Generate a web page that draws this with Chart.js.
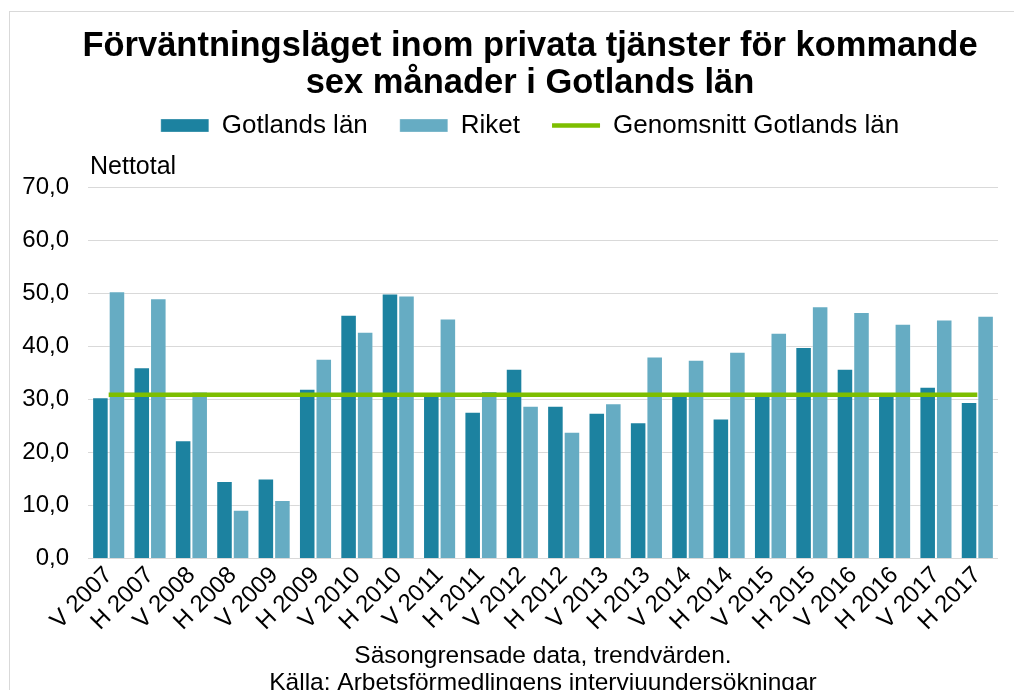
<!DOCTYPE html>
<html lang="sv">
<head>
<meta charset="utf-8">
<title>Förväntningsläget inom privata tjänster</title>
<script src="https://cdn.jsdelivr.net/npm/chart.js@4.4.1/dist/chart.umd.min.js"></script>
<style>
  html, body { margin: 0; padding: 0; background: #fff; overflow: hidden; }
  #wrap { position: relative; width: 1014px; height: 690px; overflow: hidden; }
  #ram { position: absolute; left: 9px; top: 11px; width: 1100px; height: 800px;
         border-left: 1px solid #d9d9d9; border-top: 1px solid #d9d9d9; }
  #diagram { position: absolute; left: 0; top: 0; }
</style>
</head>
<body>
<div id="wrap">
  <div id="ram"></div>
  <canvas id="diagram" width="1038" height="702"></canvas>
</div>
<script>
// halvår (V = vår, H = höst)
var perioder = ["V 2007", "H 2007", "V 2008", "H 2008", "V 2009", "H 2009", "V 2010", "H 2010",
    "V 2011", "H 2011", "V 2012", "H 2012", "V 2013", "H 2013", "V 2014", "H 2014",
    "V 2015", "H 2015", "V 2016", "H 2016", "V 2017", "H 2017"];

var gotlandsLan = [30.4, 36.1, 22.3, 14.6, 15.1, 32.0, 46.0, 50.0, 31.0, 27.7, 35.8,
    28.8, 27.5, 25.7, 31.0, 26.4, 31.0, 39.9, 35.8, 31.0, 32.4, 29.5];

var riket = [50.4, 49.1, 31.5, 9.2, 11.0, 37.7, 42.8, 49.6, 45.3, 31.6, 28.8,
    23.9, 29.3, 38.1, 37.5, 39.0, 42.6, 47.6, 46.5, 44.3, 45.1, 45.8];

var snittGotland = [30.9, 30.9, 30.9, 30.9, 30.9, 30.9, 30.9, 30.9, 30.9, 30.9, 30.9,
    30.9, 30.9, 30.9, 30.9, 30.9, 30.9, 30.9, 30.9, 30.9, 30.9, 30.9];

var yTicks = [0, 10, 20, 30, 40, 50, 60, 70];

Chart.defaults.font.family = "'Liberation Sans', Arial, sans-serif";
Chart.defaults.color = "#000";

// plats under legenden for "Nettotal"
var nettotalPlugin = {
    id: "nettotal",
    afterInit: function (chart) {
        var origFit = chart.legend.fit;
        chart.legend.fit = function () {
            origFit.call(this);
            this.height += 39;
        };
    },
    afterDraw: function (chart) {
        var ctx = chart.ctx;
        ctx.save();
        ctx.font = "25px 'Liberation Sans', Arial, sans-serif";
        ctx.fillStyle = "#000";
        ctx.textAlign = "left";
        ctx.textBaseline = "middle";
        ctx.fillText("Nettotal", chart.chartArea.left + 2, chart.chartArea.top - 20);
        ctx.restore();
    }
};

var ctx = document.getElementById("diagram");
var chart = new Chart(ctx, {
    type: "bar",
    data: {
        labels: perioder,
        datasets: [{
            label: "Gotlands län",
            data: gotlandsLan,
            backgroundColor: "#1c82a0",
            borderColor: "rgba(255,255,255,0.3)",
            borderWidth: 1,
            pointStyle: "rect",
            order: 1
        }, {
            label: "Riket",
            data: riket,
            backgroundColor: "#66acc3",
            borderColor: "rgba(255,255,255,0.3)",
            borderWidth: 1,
            pointStyle: "rect",
            order: 1
        }, {
            type: "line",
            label: "Genomsnitt Gotlands län",
            data: snittGotland,
            borderColor: "#7dbe00",
            backgroundColor: "#7dbe00",
            borderWidth: 4.5,
            pointRadius: 0,
            pointStyle: "line",
            fill: false,
            order: 0
        }]
    },
    options: {
        responsive: false,
        animation: false,
        layout: { padding: { left: 22, right: 0, top: 0, bottom: 5 } },
        datasets: { bar: { barPercentage: 1, categoryPercentage: 0.8 } },
        plugins: {
            title: {
                display: true,
                text: ["Förväntningsläget inom privata tjänster för kommande", "sex månader i Gotlands län"],
                font: { size: 34.5, weight: "bold", lineHeight: 1.08 },
                color: "#000",
                padding: { top: 28, bottom: -22 }
            },
            legend: {
                display: true,
                position: "top",
                labels: {
                    font: { size: 26 },
                    color: "#000",
                    usePointStyle: true,
                    pointStyleWidth: 48,
                    boxHeight: 13,
                    padding: 32,
                    sort: function (a, b) { return a.datasetIndex - b.datasetIndex; }
                }
            },
            tooltip: { enabled: false }
        },
        scales: {
            x: {
                grid: { display: false, drawTicks: false },
                border: { display: false },
                ticks: { font: { size: 24, lineHeight: 1.0 }, color: "#000", maxRotation: 45, minRotation: 45, padding: 4.5, autoSkip: false },
                title: {
                    display: true,
                    text: ["Säsongrensade data, trendvärden.", "Källa: Arbetsförmedlingens intervjuundersökningar"],
                    font: { size: 24.5, lineHeight: 1.1 },
                    color: "#000",
                    padding: { top: 4, bottom: 0 }
                }
            },
            y: {
                min: yTicks[0],
                max: yTicks[yTicks.length - 1],
                afterFit: function (scale) { scale.width = 66; },
                afterBuildTicks: function (scale) {
                    scale.ticks = yTicks.map(function (v) { return { value: v }; });
                },
                grid: { color: "#d9d9d9", lineWidth: 1, drawTicks: false },
                border: { display: false },
                ticks: {
                    font: { size: 24 },
                    color: "#000",
                    padding: 19,
                    callback: function (v) { return Number(v).toFixed(1).replace(".", ","); }
                }
            },
            // tom axel till hoger, bara for utrymme
            hoger: {
                position: "right",
                display: true,
                afterFit: function (scale) { scale.width = 40; },
                grid: { display: false, drawTicks: false },
                border: { display: false },
                ticks: { display: false }
            }
        }
    },
    plugins: [nettotalPlugin]
});
</script>
</body>
</html>
